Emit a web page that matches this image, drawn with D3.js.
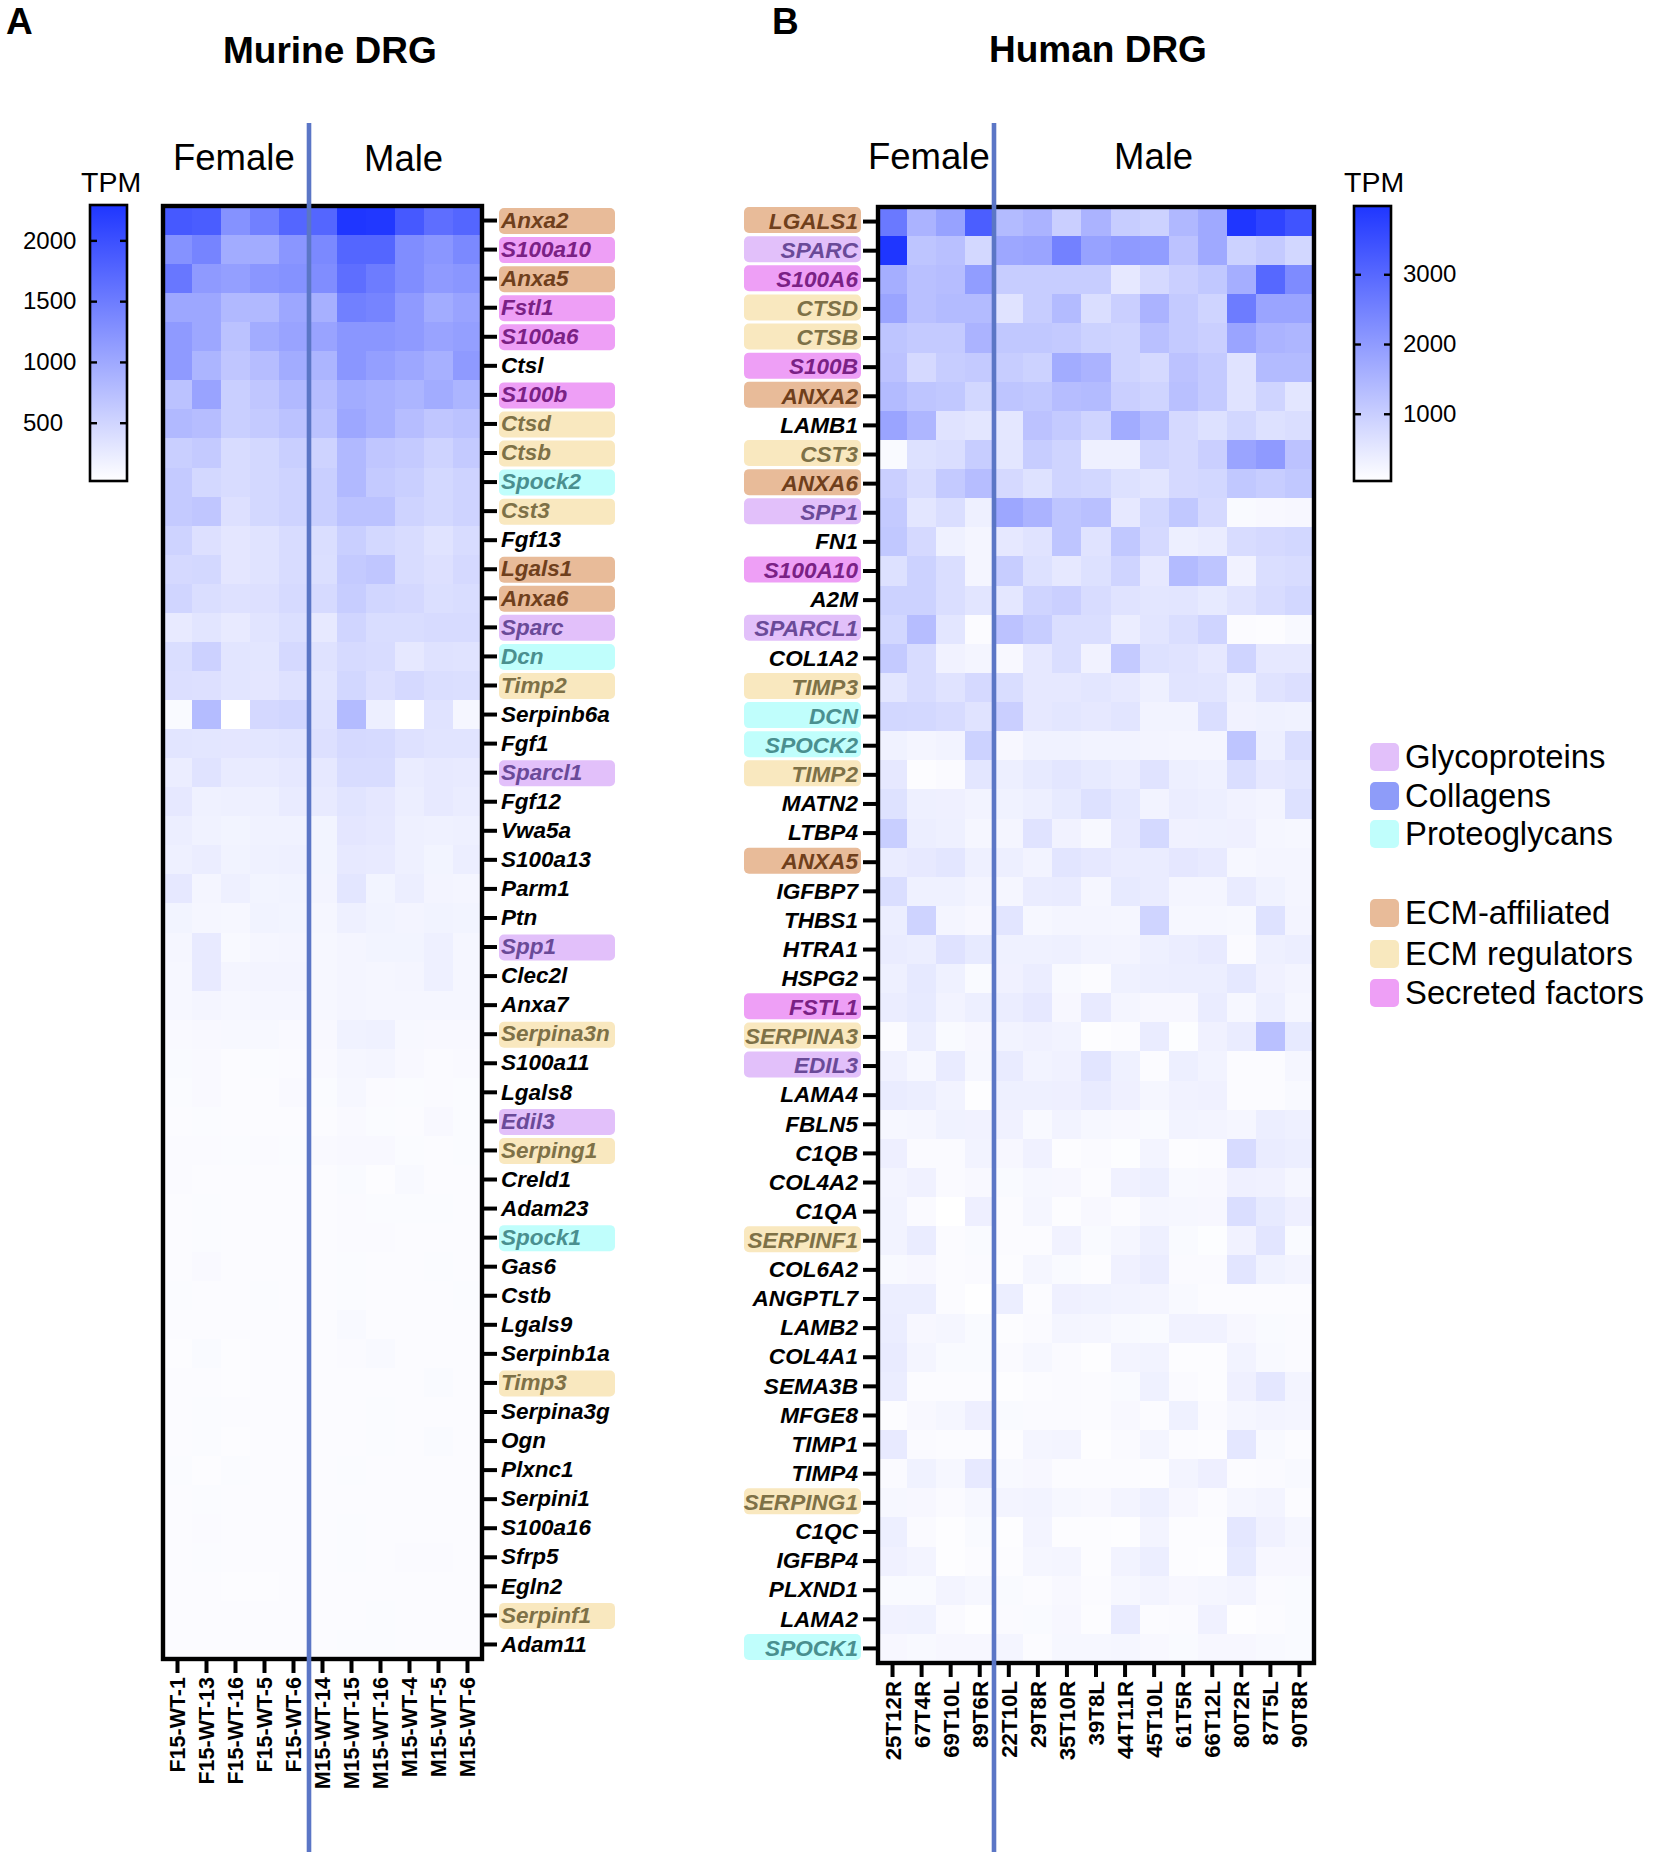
<!DOCTYPE html>
<html>
<head>
<meta charset="utf-8">
<script src="https://cdn.jsdelivr.net/npm/d3@7"></script>
<style>
  body { margin: 0; background: #fff; }
  text { font-family: "Liberation Sans", Arial, sans-serif; }
</style>
</head>
<body>
<script>
// Samples
const murineSamples = ["F15-WT-1","F15-WT-13","F15-WT-16","F15-WT-5","F15-WT-6","M15-WT-14","M15-WT-15","M15-WT-16","M15-WT-4","M15-WT-5","M15-WT-6"];
const humanSamples = ["25T12R","67T4R","69T10L","89T6R","22T10L","29T8R","35T10R","39T8L","44T11R","45T10L","61T5R","66T12L","80T2R","87T5L","90T8R"];

// Genes, top to bottom
const murineGenes = ["Anxa2","S100a10","Anxa5","Fstl1","S100a6","Ctsl","S100b","Ctsd","Ctsb","Spock2","Cst3","Fgf13","Lgals1","Anxa6","Sparc","Dcn","Timp2","Serpinb6a","Fgf1","Sparcl1","Fgf12","Vwa5a","S100a13","Parm1","Ptn","Spp1","Clec2l","Anxa7","Serpina3n","S100a11","Lgals8","Edil3","Serping1","Creld1","Adam23","Spock1","Gas6","Cstb","Lgals9","Serpinb1a","Timp3","Serpina3g","Ogn","Plxnc1","Serpini1","S100a16","Sfrp5","Egln2","Serpinf1","Adam11"];
const humanGenes = ["LGALS1","SPARC","S100A6","CTSD","CTSB","S100B","ANXA2","LAMB1","CST3","ANXA6","SPP1","FN1","S100A10","A2M","SPARCL1","COL1A2","TIMP3","DCN","SPOCK2","TIMP2","MATN2","LTBP4","ANXA5","IGFBP7","THBS1","HTRA1","HSPG2","FSTL1","SERPINA3","EDIL3","LAMA4","FBLN5","C1QB","COL4A2","C1QA","SERPINF1","COL6A2","ANGPTL7","LAMB2","COL4A1","SEMA3B","MFGE8","TIMP1","TIMP4","SERPING1","C1QC","IGFBP4","PLXND1","LAMA2","SPOCK1"];

// Matrisome groups, by upper case gene name
const glycoproteins = ["SPARC","SPARCL1","SPP1","EDIL3"];
const proteoglycans = ["SPOCK1","SPOCK2","DCN"];
const ecmAffiliated = ["ANXA2","ANXA5","ANXA6","LGALS1"];
const ecmRegulators = ["CTSD","CTSB","CST3","TIMP2","TIMP3","SERPINA3","SERPINA3N","SERPING1","SERPINF1"];
const secretedFactors = ["S100A10","S100A6","S100B","FSTL1"];

// TPM, rows follow murineGenes, columns follow murineSamples
const murineTPM = [
  [1900,1850,1250,1450,1750,1750,2290,2270,1900,1650,1750],
  [1250,1400,950,950,1200,1350,1750,1750,1300,1200,1350],
  [1550,1150,1100,1200,1250,1300,1650,1500,1300,1150,1200],
  [1000,1000,800,800,1000,900,1450,1400,1150,950,1050],
  [1150,1000,700,950,1050,1050,1200,1200,1150,1050,1100],
  [1150,850,650,750,950,850,1200,1100,1000,900,1150],
  [700,1050,550,650,800,750,950,900,850,950,850],
  [800,750,550,600,700,700,1000,900,750,650,700],
  [550,600,400,450,550,500,800,650,600,500,600],
  [600,450,400,450,500,550,800,600,550,450,500],
  [600,650,350,450,500,550,700,700,500,450,500],
  [500,350,280,320,400,380,550,450,400,320,400],
  [430,450,280,320,400,370,600,650,400,350,430],
  [480,380,340,350,420,420,570,470,440,370,390],
  [240,300,240,310,370,250,480,390,390,410,410],
  [380,520,300,290,430,330,420,400,260,330,320],
  [360,350,300,280,340,300,460,360,430,380,370],
  [60,770,5,440,470,320,780,180,5,320,100],
  [300,290,280,290,310,350,430,420,340,310,310],
  [200,320,230,230,260,260,400,400,220,250,240],
  [260,160,170,170,230,240,310,270,190,250,220],
  [190,150,130,150,150,130,280,260,170,160,170],
  [170,200,140,160,170,130,250,240,170,130,190],
  [260,110,170,130,140,120,290,130,190,120,110],
  [130,100,90,140,130,100,170,140,120,140,130],
  [100,240,70,100,110,90,110,130,130,170,100],
  [90,240,110,120,120,90,110,100,110,170,100],
  [90,110,90,100,100,90,110,100,100,100,100],
  [65,75,85,85,65,75,150,160,85,75,75],
  [60,65,45,50,55,65,105,115,75,55,65],
  [50,65,40,45,65,50,95,55,50,55,50],
  [40,50,40,40,45,45,65,50,40,75,50],
  [55,55,50,55,50,65,75,75,50,45,50],
  [55,40,40,45,45,45,60,30,70,45,45],
  [40,50,40,40,45,40,55,50,50,50,45],
  [40,50,40,45,40,40,55,55,45,45,40],
  [40,65,40,45,40,40,50,40,40,50,40],
  [50,45,40,50,40,40,50,40,45,40,50],
  [40,45,40,40,40,40,70,45,40,40,40],
  [30,60,30,40,40,40,55,70,40,40,40],
  [40,40,30,40,40,40,40,40,40,60,40],
  [40,50,40,40,40,40,40,50,40,40,40],
  [40,50,30,40,40,40,40,50,40,60,40],
  [50,30,50,45,40,40,50,40,40,40,40],
  [40,50,40,40,40,40,40,40,40,40,40],
  [40,55,40,40,40,40,50,45,40,40,40],
  [40,50,40,45,40,40,50,40,55,55,40],
  [40,40,30,30,40,40,45,45,45,40,40],
  [40,40,40,40,40,40,40,50,40,40,40],
  [40,45,40,40,40,40,50,50,45,40,40]
];

// TPM, rows follow humanGenes, columns follow humanSamples
const humanTPM = [
  [2650,1500,1850,3200,1350,1500,950,1500,1000,900,1400,1700,3986,3700,3400],
  [3986,1150,1250,780,1750,1800,2500,1850,2000,1950,1200,1700,900,1050,800],
  [1600,1250,1300,1950,1000,1000,1000,1000,450,750,950,1100,1600,3000,2300],
  [1800,1250,1350,1350,550,1000,1350,650,950,1500,1050,850,2600,1800,1800],
  [1150,1050,1050,1500,1100,1100,1050,900,850,1250,1050,950,1800,1500,1450],
  [1200,750,1000,1050,1000,900,1650,1500,850,750,1200,1050,550,1350,1350],
  [1350,1150,1100,800,1150,1100,1300,1350,950,850,1250,1050,550,850,500],
  [1800,1450,550,500,480,1200,1050,850,1650,1350,750,600,800,600,650],
  [100,600,650,1000,500,1000,850,300,300,850,750,950,1800,2000,1200],
  [950,700,1050,1300,750,580,850,800,600,520,750,800,1100,1000,1100],
  [1050,500,650,300,1750,1500,1150,1250,450,800,1100,750,100,130,150],
  [1100,750,280,200,450,550,1150,550,1100,750,320,380,700,750,800],
  [600,900,650,200,1000,600,450,600,850,450,1350,1150,250,650,700],
  [900,900,650,520,480,850,950,700,550,500,520,420,560,700,800],
  [800,1300,500,70,1200,1000,650,650,350,520,650,850,70,60,120],
  [1050,700,250,200,130,450,650,250,1050,600,550,450,850,450,450],
  [500,700,550,750,680,450,450,500,430,300,530,520,300,550,630],
  [800,780,720,550,950,450,500,450,520,230,240,650,250,280,260],
  [260,190,230,900,150,260,260,230,230,210,190,190,1150,320,650],
  [450,50,90,500,320,420,500,420,350,550,320,280,650,450,500],
  [580,300,290,240,260,320,420,600,460,240,350,320,250,210,600],
  [980,330,300,170,200,560,250,140,430,760,270,280,290,170,160],
  [370,430,500,300,320,230,520,450,370,370,470,410,160,200,190],
  [650,280,280,220,170,370,400,170,420,370,200,200,400,260,190],
  [340,880,200,150,510,160,200,200,170,850,160,160,140,580,220],
  [370,340,570,420,280,280,300,240,220,300,360,410,90,300,340],
  [300,440,280,100,270,350,120,80,280,320,330,340,460,270,220],
  [360,420,230,320,350,450,150,410,190,150,150,370,160,320,180],
  [70,340,100,150,230,270,230,30,70,370,45,270,380,1250,420],
  [270,160,390,160,400,230,270,510,280,70,320,240,70,70,170],
  [370,340,240,40,300,300,310,400,290,170,250,270,70,70,120],
  [160,170,260,250,270,120,240,160,130,100,230,220,180,330,300],
  [310,90,90,230,150,270,60,90,45,220,60,70,720,380,340],
  [210,270,90,130,100,160,150,70,270,320,120,130,290,270,170],
  [230,90,5,310,70,180,60,130,70,180,160,150,660,420,310],
  [240,370,70,100,70,70,250,100,180,300,100,45,250,520,100],
  [120,150,70,90,60,170,100,60,270,360,90,90,510,260,220],
  [340,340,70,20,340,70,290,260,230,220,120,70,70,70,70],
  [350,150,180,100,60,90,190,180,120,100,250,250,150,100,90],
  [390,200,100,100,90,160,90,40,220,240,60,60,230,120,90],
  [360,70,70,70,30,70,90,70,100,280,90,60,290,480,220],
  [60,130,170,310,100,90,90,70,130,70,280,90,180,220,200],
  [410,90,70,70,60,190,220,40,90,190,70,60,480,120,70],
  [90,260,160,430,120,150,70,70,70,60,220,310,70,90,120],
  [160,150,90,160,220,230,160,130,210,300,150,70,170,220,70],
  [320,90,40,100,40,210,60,60,40,220,60,60,480,270,170],
  [270,210,40,70,60,180,190,60,240,340,60,40,420,150,150],
  [100,100,220,160,100,70,130,70,160,210,150,170,220,90,100],
  [250,260,90,40,90,100,150,60,400,70,90,270,40,70,100],
  [150,120,150,150,200,70,160,160,170,130,100,150,150,120,100]
];

// Colour bar ticks and ranges
const murineTicks = [500, 1000, 1500, 2000];
const humanTicks = [1000, 2000, 3000];
const murineMax = 2295;
const humanMax = 3986;

// Legend
const legendLabels = ["Glycoproteins","Collagens","Proteoglycans","ECM-affiliated","ECM regulators","Secreted factors"];
const legendColors = ["#E2C0FA","#8E9CF9","#C0FEFC","#E8BB99","#F8E8BE","#EE9FF6"];

const badgeFill = { gly: "#E2C0FA", pro: "#C0FEFC", aff: "#E8BB99", reg: "#F9E8BF", sec: "#EE9FF6" };
const badgeText = { gly: "#6A4A98", pro: "#4A8F8F", aff: "#6F3F1C", reg: "#7E7147", sec: "#7A2185" };

function groupOf(gene) {
  const g = gene.toUpperCase();
  if (glycoproteins.includes(g)) return "gly";
  if (proteoglycans.includes(g)) return "pro";
  if (ecmAffiliated.includes(g)) return "aff";
  if (ecmRegulators.includes(g)) return "reg";
  if (secretedFactors.includes(g)) return "sec";
  return null;
}

const svg = d3.select("body").append("svg")
  .attr("width", 1654)
  .attr("height", 1864);

const defs = svg.append("defs");

function heatmap(o) {
  const x = d3.scaleBand().domain(o.samples).range(o.xRange);
  const y = d3.scaleBand().domain(o.genes).range(o.yRange);
  const color = d3.scaleLinear().domain([0, o.max]).range(["#ffffff", "#1F36FF"]);

  // Cells
  const cells = svg.append("g").attr("shape-rendering", "crispEdges");
  o.values.forEach((row, i) => {
    row.forEach((v, j) => {
      cells.append("rect")
        .attr("x", x(o.samples[j]))
        .attr("y", y(o.genes[i]))
        .attr("width", x.bandwidth() + 0.5)
        .attr("height", y.bandwidth() + 0.5)
        .attr("fill", color(v));
    });
  });

  // Gene badges sit behind the labels
  svg.append("g").selectAll("rect")
    .data(o.genes.filter(groupOf))
    .join("rect")
    .attr("x", o.badgeX)
    .attr("y", d => y(d) + y.bandwidth() / 2 - 13 + o.badgeDy)
    .attr("width", o.badgeW)
    .attr("height", 26)
    .attr("rx", 5)
    .attr("fill", d => badgeFill[groupOf(d)]);

  // Gene axis
  const geneAxis = o.geneSide === "right" ? d3.axisRight(y) : d3.axisLeft(y);
  const gy = svg.append("g")
    .attr("transform", `translate(${o.geneSide === "right" ? o.xRange[1] : o.xRange[0]},0)`)
    .call(geneAxis.tickSize(15).tickPadding(o.genePad));
  gy.select(".domain").remove();
  gy.selectAll("line").attr("stroke", "#000").attr("stroke-width", 4);
  gy.selectAll("text")
    .style("font-size", o.geneFont + "px")
    .style("font-weight", "bold")
    .style("font-style", "italic")
    .attr("fill", d => groupOf(d) ? badgeText[groupOf(d)] : "#000");

  // Sample axis
  const gx = svg.append("g")
    .attr("transform", `translate(0,${o.yRange[1]})`)
    .call(d3.axisBottom(x).tickSize(14).tickPadding(4));
  gx.select(".domain").remove();
  gx.selectAll("line").attr("stroke", "#000").attr("stroke-width", 4);
  gx.selectAll("text")
    .attr("transform", "rotate(-90)")
    .attr("x", -18)
    .attr("y", 0)
    .attr("dy", "0.36em")
    .style("text-anchor", "end")
    .style("font-size", o.sampleFont + "px")
    .style("font-weight", "bold")
    .attr("fill", "#000");

  // Frame
  svg.append("rect")
    .attr("x", o.xRange[0])
    .attr("y", o.yRange[0])
    .attr("width", o.xRange[1] - o.xRange[0])
    .attr("height", o.yRange[1] - o.yRange[0])
    .attr("fill", "none")
    .attr("stroke", "#000")
    .attr("stroke-width", 4.4);

  // Female / male divider
  svg.append("line")
    .attr("x1", o.splitX).attr("x2", o.splitX)
    .attr("y1", 123).attr("y2", 1852)
    .attr("stroke", "#5B76C6")
    .attr("stroke-width", 4.6);

  // Titles
  svg.append("text").attr("x", o.letterX).attr("y", 34)
    .style("font-size", "37px").style("font-weight", "bold").text(o.letter);
  svg.append("text").attr("x", o.titleX).attr("y", o.titleY)
    .style("font-size", "37px").style("font-weight", "bold").text(o.title);
  svg.append("text").attr("x", o.femaleX).attr("y", o.femaleY)
    .style("font-size", "36.5px").text("Female");
  svg.append("text").attr("x", o.maleX).attr("y", o.maleY)
    .style("font-size", "36.5px").text("Male");

  // Colour bar
  const barY = d3.scaleLinear().domain([0, o.max]).range([484, o.yRange[0] - 1]);
  const gradId = "grad" + o.letter;
  const grad = defs.append("linearGradient").attr("id", gradId)
    .attr("x1", 0).attr("x2", 0).attr("y1", 1).attr("y2", 0);
  grad.append("stop").attr("offset", "0%").attr("stop-color", color(0));
  grad.append("stop").attr("offset", "100%").attr("stop-color", color(o.max));

  svg.append("rect")
    .attr("x", o.barX).attr("y", barY(o.max))
    .attr("width", 37).attr("height", 481 - barY(o.max))
    .attr("fill", `url(#${gradId})`)
    .attr("stroke", "#000").attr("stroke-width", 2.6);

  const ticks = svg.append("g").selectAll("g").data(o.ticks).join("g")
    .attr("transform", d => `translate(0,${barY(d)})`);
  ticks.append("line").attr("x1", o.barX).attr("x2", o.barX + 7).attr("stroke", "#000").attr("stroke-width", 2.4);
  ticks.append("line").attr("x1", o.barX + 30).attr("x2", o.barX + 37).attr("stroke", "#000").attr("stroke-width", 2.4);
  ticks.append("text").attr("x", o.barLabelX).attr("y", -1).attr("dy", "0.36em")
    .style("font-size", "24px").text(d => d);

  svg.append("text").attr("x", o.tpmX).attr("y", 192)
    .style("font-size", "28.5px").text("TPM");
}

heatmap({
  letter: "A", letterX: 6, title: "Murine DRG", titleX: 223, titleY: 63,
  femaleX: 173, femaleY: 170, maleX: 364, maleY: 171,
  samples: murineSamples, genes: murineGenes, values: murineTPM, max: murineMax,
  xRange: [163, 482], yRange: [206, 1659], geneSide: "right",
  genePad: 4, geneFont: 22.5, sampleFont: 21.5,
  badgeX: 499, badgeW: 116, badgeDy: 0.5, splitX: 309,
  barX: 90, barLabelX: 23, ticks: murineTicks, tpmX: 81
});

heatmap({
  letter: "B", letterX: 772, title: "Human DRG", titleX: 989, titleY: 62,
  femaleX: 868, femaleY: 169, maleX: 1114, maleY: 169,
  samples: humanSamples, genes: humanGenes, values: humanTPM, max: humanMax,
  xRange: [878, 1314], yRange: [207, 1663], geneSide: "left",
  genePad: 5, geneFont: 22.6, sampleFont: 22.3,
  badgeX: 744, badgeW: 117, badgeDy: -1.5, splitX: 994,
  barX: 1354, barLabelX: 1403, ticks: humanTicks, tpmX: 1344
});

// Legend
const legendY = [757, 796, 834, 913, 954, 993];
const legend = svg.append("g").selectAll("g").data(legendLabels).join("g")
  .attr("transform", (d, i) => `translate(1370,${legendY[i]})`);
legend.append("rect")
  .attr("y", -14).attr("width", 29).attr("height", 28).attr("rx", 5)
  .attr("fill", (d, i) => legendColors[i]);
legend.append("text")
  .attr("x", 35).attr("dy", "0.34em")
  .style("font-size", "32.8px").text(d => d);
</script>
</body>
</html>
